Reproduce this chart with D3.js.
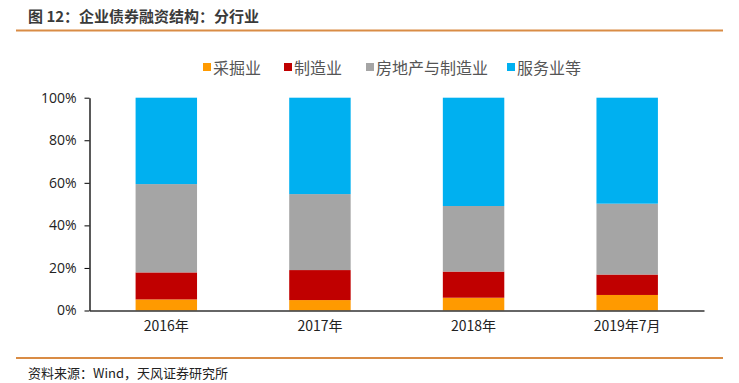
<!DOCTYPE html>
<html><head><meta charset="utf-8">
<script src="https://cdn.jsdelivr.net/npm/d3@7"></script>
<style>body{margin:0;background:#fff}svg{display:block}</style>
</head><body>
<svg id="c" width="739" height="383"></svg>
<script>
const categories = ["2016年","2017年","2018年","2019年7月"];
const seriesNames = ["采掘业","制造业","房地产与制造业","服务业等"];
const mining = [5.2, 4.9, 6.0, 7.3];
const manufacturing = [12.7, 14.1, 12.3, 9.6];
const realEstate = [41.5, 35.7, 30.8, 33.3];
const services = [40.6, 45.3, 50.9, 49.8];
const yTicks = [0, 20, 40, 60, 80, 100];
const colors = ["#FF9A00", "#C00000", "#A5A5A5", "#00B0F0"];

const svg = d3.select("#c");
const font = "'Noto Sans CJK SC','Noto Sans',sans-serif";

svg.append("text").attr("x", 28).attr("y", 22).attr("font-family", font)
  .attr("font-size", 15).attr("font-weight", "bold").attr("fill", "#3a3a3a")
  .text("图 12：企业债券融资结构：分行业");
svg.append("line").attr("x1", 16).attr("x2", 723).attr("y1", 30.5).attr("y2", 30.5)
  .attr("stroke", "#D98C45").attr("stroke-width", 2);
svg.append("line").attr("x1", 16).attr("x2", 723).attr("y1", 358).attr("y2", 358)
  .attr("stroke", "#D98C45").attr("stroke-width", 2);
svg.append("text").attr("x", 28).attr("y", 378).attr("font-family", font)
  .attr("font-size", 13).attr("fill", "#222")
  .text("资料来源：Wind，天风证券研究所");

const x = d3.scaleBand().domain(categories).range([89.5, 704]).paddingInner(0.6).paddingOuter(0.3);
const y = d3.scaleLinear().domain([0, 100]).range([310.5, 97.7]);

const rows = categories.map((c, i) => ({cat: c, "采掘业": mining[i], "制造业": manufacturing[i], "房地产与制造业": realEstate[i], "服务业等": services[i]}));
const stack = d3.stack().keys(seriesNames)(rows);

svg.append("g").selectAll("g").data(stack).join("g")
  .attr("fill", (d, i) => colors[i])
  .selectAll("rect").data(d => d).join("rect")
  .attr("x", d => x(d.data.cat)).attr("width", x.bandwidth())
  .attr("y", d => y(Math.min(100, d[1]))).attr("height", d => y(d[0]) - y(Math.min(100, d[1])));

const ya = svg.append("g").attr("transform", "translate(89.5,0)")
  .call(d3.axisLeft(y).tickValues(yTicks).tickFormat(d => d + "%").tickSize(5).tickSizeOuter(0));
ya.select(".domain").attr("stroke", "#000").attr("stroke-width", 1.3);
ya.selectAll(".tick line").attr("stroke", "#000");
ya.selectAll("text").attr("font-family", "'Open Sans',sans-serif").attr("font-size", 14)
  .attr("fill", "#222").attr("x", -13);

const xa = svg.append("g").attr("transform", "translate(0,310.5)")
  .call(d3.axisBottom(x).tickSize(0).tickSizeOuter(0));
xa.select(".domain").attr("stroke", "#333").attr("stroke-width", 1.3);
xa.selectAll("text").attr("font-family", font).attr("font-size", 14)
  .attr("fill", "#222").attr("dy", "1.25em");

const legendX = [203, 284, 366, 507];
const lg = svg.append("g");
seriesNames.forEach((n, i) => {
  lg.append("rect").attr("x", legendX[i]).attr("y", 63).attr("width", 8).attr("height", 8).attr("fill", colors[i]);
  lg.append("text").attr("x", legendX[i] + 10).attr("y", 74).attr("font-family", font)
    .attr("font-size", 16).attr("fill", "#555").text(n);
});
</script>
</body></html>
